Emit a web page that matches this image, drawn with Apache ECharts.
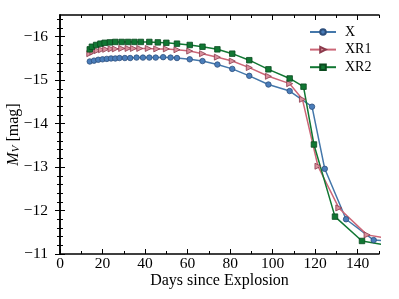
<!DOCTYPE html>
<html><head><meta charset="utf-8">
<script src="https://cdn.jsdelivr.net/npm/echarts@6/dist/echarts.min.js"></script>
<style>html,body{margin:0;padding:0;background:#fff}#c{width:399px;height:299px}</style>
</head><body><div id="c"></div>
<script>
const xDays = [14,16,18,20,22,24,26,28,30.5,33,36,39,42,45,48.5,52,55,61,67,74,81,89,98,108,118.5,124.5,134.5,147.5,155];
const xMag  = [-15.43,-15.45,-15.47,-15.48,-15.49,-15.50,-15.50,-15.51,-15.51,-15.51,-15.52,-15.52,-15.52,-15.52,-15.53,-15.52,-15.51,-15.48,-15.44,-15.36,-15.26,-15.10,-14.90,-14.75,-14.39,-12.96,-11.80,-11.32,-11.30];
const xr1Days = [14,15.5,17.5,19.5,21.5,24,26,29,32,34.5,37.5,41.5,45.5,50,55,61,67,74,81,89,98,108,114,121.3,131.1,144.4,155];
const xr1Mag  = [-15.61,-15.65,-15.68,-15.70,-15.71,-15.72,-15.72,-15.73,-15.73,-15.73,-15.73,-15.73,-15.72,-15.72,-15.70,-15.67,-15.61,-15.53,-15.44,-15.29,-15.09,-14.92,-14.56,-13.02,-12.06,-11.44,-11.35];
const xr2Days = [14,15,17,19,21,23.5,26,29,32,35,38,42,46,50,55,61,67,74,81,89,98,108,114.5,119.4,129.3,142,155];
const xr2Mag  = [-15.71,-15.77,-15.81,-15.84,-15.86,-15.87,-15.88,-15.88,-15.88,-15.88,-15.88,-15.88,-15.87,-15.86,-15.84,-15.81,-15.77,-15.71,-15.61,-15.46,-15.25,-15.04,-14.85,-13.52,-11.86,-11.30,-11.19];
const xMajor = [0,20,40,60,80,100,120,140];
const xMinor = [10,30,50,70,90,110,130,150];
const yMajor = [-16,-15,-14,-13,-12,-11];
const yMinor = [-16.4,-16.2,-15.8,-15.6,-15.4,-15.2,-14.8,-14.6,-14.4,-14.2,-13.8,-13.6,-13.4,-13.2,-12.8,-12.6,-12.4,-12.2,-11.8,-11.6,-11.4,-11.2];
const seriesNames = ['X','XR1','XR2'];

const FONT = 'Liberation Serif';
const pair = (a,b) => a.map((v,i)=>[v,b[i]]);
const gridRect = {left:60, right:20, top:15, bottom:45, outerBoundsMode:'none', containLabel:false};
const lineStyleAxis = {show:true, lineStyle:{color:'#000', width:1.5}};
function xAx(grid, pos, vals, len, main, labels){
  return {type:'value', gridIndex:grid, position:pos, min:0, max:150,
    axisLine: main ? lineStyleAxis : {show:false},
    axisTick:{show:true, inside:true, length:len, customValues:vals, lineStyle:{color:'#000', width:1}},
    axisLabel: labels ? {show:true, customValues:vals, margin:2, color:'#000', fontFamily:FONT, fontSize:15.5} : {show:false},
    splitLine:{show:false},
    name: labels ? 'Days since Explosion' : '', nameLocation:'middle', nameGap:19, nameMoveOverlap:false,
    nameTextStyle:{fontFamily:FONT, fontSize:16, color:'#000'}};
}
function yAx(grid, pos, vals, len, main, labels){
  return {type:'value', gridIndex:grid, position:pos, min:-16.5, max:-11, inverse:true,
    axisLine: main ? lineStyleAxis : {show:false},
    axisTick:{show:true, inside:true, length:len, customValues:vals, lineStyle:{color:'#000', width:1}},
    axisLabel: labels ? {show:true, customValues:vals, margin:12, color:'#000', fontFamily:FONT, fontSize:15.5,
      formatter: v => (v<0 ? '\u2212' : '') + Math.abs(v)} : {show:false},
    splitLine:{show:false},
    name: labels ? '{i|M}{s|V}{n| [mag]}' : '', nameLocation:'middle', nameGap:38, nameMoveOverlap:false,
    nameTextStyle:{color:'#000', fontFamily:FONT, fontSize:16,
      rich:{ i:{fontFamily:FONT, fontSize:16, fontStyle:'italic', color:'#000'},
             s:{fontFamily:FONT, fontSize:11, fontStyle:'italic', color:'#000', verticalAlign:'bottom', padding:[6,0,0,0]},
             n:{fontFamily:FONT, fontSize:16, color:'#000'} }}};
}
const chart = echarts.init(document.getElementById('c'), null, {renderer:'canvas'});
chart.setOption({
  animation:false,
  backgroundColor:'#fff',
  grid:[Object.assign({}, gridRect), Object.assign({}, gridRect)],
  xAxis:[ xAx(0,'bottom',xMajor,5,true,true), xAx(0,'top',xMajor,5,true,false),
          xAx(1,'bottom',xMinor,3,false,false), xAx(1,'top',xMinor,3,false,false) ],
  yAxis:[ yAx(0,'left',yMajor,5,true,true), yAx(0,'right',yMajor,5,true,false),
          yAx(1,'left',yMinor,3,false,false), yAx(1,'right',yMinor,3,false,false) ],
  legend:{ orient:'vertical', left:309, top:25, padding:0, itemWidth:26, itemHeight:7, itemGap:3.6,
    data:seriesNames,
    textStyle:{fontFamily:FONT, fontSize:14, color:'#000', lineHeight:14, padding:[0,0,0,4]} },
  series:[
    {name:seriesNames[0], type:'line', xAxisIndex:0, yAxisIndex:0, data:pair(xDays,xMag),
     symbol:'circle', symbolSize:5.5, clip:true,
     lineStyle:{color:'#4477aa', width:1.5},
     itemStyle:{color:'#4a7dba', borderColor:'#2d4f7c', borderWidth:0.8}},
    {name:seriesNames[1], type:'line', xAxisIndex:0, yAxisIndex:0, data:pair(xr1Days,xr1Mag),
     symbol:'path://M0,0L10,5L0,10Z', symbolSize:6, clip:true,
     lineStyle:{color:'#cc6677', width:1.5},
     itemStyle:{color:'#d9909c', borderColor:'#8c3a4c', borderWidth:0.8}},
    {name:seriesNames[2], type:'line', xAxisIndex:0, yAxisIndex:0, data:pair(xr2Days,xr2Mag),
     symbol:'rect', symbolSize:5.5, clip:true,
     lineStyle:{color:'#117733', width:1.5},
     itemStyle:{color:'#117733', borderColor:'#0a4a1f', borderWidth:0.8}}
  ]
});
</script></body></html>
